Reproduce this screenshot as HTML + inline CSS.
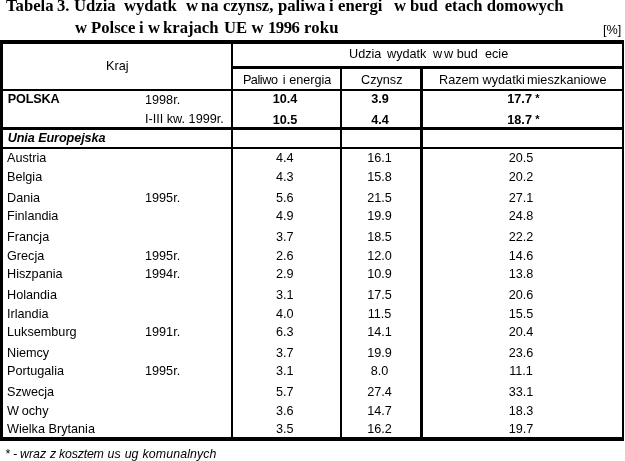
<!DOCTYPE html>
<html><head><meta charset="utf-8"><title>Tabela 3</title>
<style>
html,body{margin:0;padding:0;background:#fff;}
body{width:625px;height:461px;position:relative;overflow:hidden;will-change:transform;font-family:"Liberation Sans", sans-serif;font-size:12.67px;color:#000;}
.r{position:absolute;background:#000;}
.t{position:absolute;white-space:nowrap;line-height:0;}
.t::before{content:"";display:inline-block;height:20px;width:0;vertical-align:baseline;}
.b{font-weight:bold;}
.it{font-style:italic;}
.n{font-weight:normal;}
.ti{font-family:"Liberation Serif", serif;font-weight:bold;font-size:16.67px;}
.g{display:inline-block;height:1px;}
</style></head><body>
<div class="r" style="left:0px;top:40px;width:624px;height:4px"></div>
<div class="r" style="left:0px;top:437px;width:624px;height:4px"></div>
<div class="r" style="left:0px;top:40px;width:3px;height:401px"></div>
<div class="r" style="left:622px;top:40px;width:2px;height:401px"></div>
<div class="r" style="left:231px;top:40px;width:2px;height:401px"></div>
<div class="r" style="left:340px;top:66px;width:2px;height:375px"></div>
<div class="r" style="left:420px;top:66px;width:3px;height:375px"></div>
<div class="r" style="left:231px;top:66px;width:393px;height:3px"></div>
<div class="r" style="left:0px;top:89px;width:624px;height:2px"></div>
<div class="r" style="left:0px;top:127px;width:624px;height:3px"></div>
<div class="r" style="left:0px;top:147px;width:624px;height:2px"></div>
<div class="t ti" style="top:-9px;left:6px;">Tabela</div>
<div class="t ti" style="top:-9px;left:57px;">3.</div>
<div class="t ti" style="top:-9px;left:74px;">Udzia</div>
<div class="t ti" style="top:-9px;left:124px;">wydatk</div>
<div class="t ti" style="top:-9px;left:186px;">w</div>
<div class="t ti" style="top:-9px;left:201px;">na</div>
<div class="t ti" style="top:-9px;left:223px;">czynsz,</div>
<div class="t ti" style="top:-9px;left:278px;">paliwa</div>
<div class="t ti" style="top:-9px;left:329px;">i</div>
<div class="t ti" style="top:-9px;left:338px;">energi</div>
<div class="t ti" style="top:-9px;left:394px;">w</div>
<div class="t ti" style="top:-9px;left:410px;">bud</div>
<div class="t ti" style="top:-9px;left:444.7px;">etach</div>
<div class="t ti" style="top:-9px;left:486.7px;">domowych</div>
<div class="t ti" style="top:13px;left:75px;">w</div>
<div class="t ti" style="top:13px;left:91px;">Polsce</div>
<div class="t ti" style="top:13px;left:139px;">i</div>
<div class="t ti" style="top:13px;left:148px;">w</div>
<div class="t ti" style="top:13px;left:163px;">krajach</div>
<div class="t ti" style="top:13px;left:224px;">UE</div>
<div class="t ti" style="top:13px;left:251.5px;">w</div>
<div class="t ti" style="top:13px;left:268px;letter-spacing:-0.5px;">1996</div>
<div class="t ti" style="top:13px;left:304px;letter-spacing:0.2px;">roku</div>
<div class="t" style="top:14px;left:603px;">[%]</div>
<div class="t" style="top:50px;left:106px;">Kraj</div>
<div class="t" style="top:38px;left:349px;">Udzia</div>
<div class="t" style="top:38px;left:387px;">wydatk</div>
<div class="t" style="top:38px;left:433px;">w</div>
<div class="t" style="top:38px;left:444px;">w bud</div>
<div class="t" style="top:38px;left:485px;">ecie</div>
<div class="t" style="top:64px;left:243px;">P</div>
<div class="t" style="top:64px;left:250.8px;letter-spacing:-0.4px;">aliwo</div>
<div class="t" style="top:64px;left:282.8px;">i energia</div>
<div class="t" style="top:64px;left:361px;">Czynsz</div>
<div class="t" style="top:64px;left:439px;">Razem wydatki</div>
<div class="t" style="top:64px;left:527px;">mieszkaniowe</div>
<div class="t b" style="top:83px;left:7.7px;letter-spacing:-0.15px;">POLSKA</div>
<div class="t" style="top:84px;left:145px;">1998r.</div>
<div class="t" style="top:103px;left:145px;">I-III kw. 1999r.</div>
<div class="t b" style="top:83px;left:135px;width:300px;text-align:center;">10.4</div>
<div class="t b" style="top:83px;left:230px;width:300px;text-align:center;">3.9</div>
<div class="t b" style="top:83px;left:507.3px;">17.7</div>
<div class="t b" style="top:82px;left:535.2px;font-size:11px;">*</div>
<div class="t b" style="top:104px;left:135px;width:300px;text-align:center;">10.5</div>
<div class="t b" style="top:104px;left:230px;width:300px;text-align:center;">4.4</div>
<div class="t b" style="top:104px;left:507.3px;">18.7</div>
<div class="t b" style="top:103px;left:535.2px;font-size:11px;">*</div>
<div class="t b it" style="top:122px;left:7.7px;letter-spacing:-0.1px;">Unia Europejska</div>
<div class="t" style="top:142px;left:7px;">Austria</div>
<div class="t" style="top:142px;left:134.7px;width:300px;text-align:center;">4.4</div>
<div class="t" style="top:142px;left:229.5px;width:300px;text-align:center;">16.1</div>
<div class="t" style="top:142px;left:371px;width:300px;text-align:center;">20.5</div>
<div class="t" style="top:161px;left:7px;">Belgia</div>
<div class="t" style="top:161px;left:134.7px;width:300px;text-align:center;">4.3</div>
<div class="t" style="top:161px;left:229.5px;width:300px;text-align:center;">15.8</div>
<div class="t" style="top:161px;left:371px;width:300px;text-align:center;">20.2</div>
<div class="t" style="top:182px;left:7px;">Dania</div>
<div class="t" style="top:182px;left:145px;">1995r.</div>
<div class="t" style="top:182px;left:134.7px;width:300px;text-align:center;">5.6</div>
<div class="t" style="top:182px;left:229.5px;width:300px;text-align:center;">21.5</div>
<div class="t" style="top:182px;left:371px;width:300px;text-align:center;">27.1</div>
<div class="t" style="top:200px;left:7px;">Finlandia</div>
<div class="t" style="top:200px;left:134.7px;width:300px;text-align:center;">4.9</div>
<div class="t" style="top:200px;left:229.5px;width:300px;text-align:center;">19.9</div>
<div class="t" style="top:200px;left:371px;width:300px;text-align:center;">24.8</div>
<div class="t" style="top:221px;left:7px;">Francja</div>
<div class="t" style="top:221px;left:134.7px;width:300px;text-align:center;">3.7</div>
<div class="t" style="top:221px;left:229.5px;width:300px;text-align:center;">18.5</div>
<div class="t" style="top:221px;left:371px;width:300px;text-align:center;">22.2</div>
<div class="t" style="top:240px;left:7px;">Grecja</div>
<div class="t" style="top:240px;left:145px;">1995r.</div>
<div class="t" style="top:240px;left:134.7px;width:300px;text-align:center;">2.6</div>
<div class="t" style="top:240px;left:229.5px;width:300px;text-align:center;">12.0</div>
<div class="t" style="top:240px;left:371px;width:300px;text-align:center;">14.6</div>
<div class="t" style="top:258px;left:7px;">Hiszpania</div>
<div class="t" style="top:258px;left:145px;">1994r.</div>
<div class="t" style="top:258px;left:134.7px;width:300px;text-align:center;">2.9</div>
<div class="t" style="top:258px;left:229.5px;width:300px;text-align:center;">10.9</div>
<div class="t" style="top:258px;left:371px;width:300px;text-align:center;">13.8</div>
<div class="t" style="top:279px;left:7px;">Holandia</div>
<div class="t" style="top:279px;left:134.7px;width:300px;text-align:center;">3.1</div>
<div class="t" style="top:279px;left:229.5px;width:300px;text-align:center;">17.5</div>
<div class="t" style="top:279px;left:371px;width:300px;text-align:center;">20.6</div>
<div class="t" style="top:298px;left:7px;">Irlandia</div>
<div class="t" style="top:298px;left:134.7px;width:300px;text-align:center;">4.0</div>
<div class="t" style="top:298px;left:229.5px;width:300px;text-align:center;">11.5</div>
<div class="t" style="top:298px;left:371px;width:300px;text-align:center;">15.5</div>
<div class="t" style="top:316px;left:7px;">Luksemburg</div>
<div class="t" style="top:316px;left:145px;">1991r.</div>
<div class="t" style="top:316px;left:134.7px;width:300px;text-align:center;">6.3</div>
<div class="t" style="top:316px;left:229.5px;width:300px;text-align:center;">14.1</div>
<div class="t" style="top:316px;left:371px;width:300px;text-align:center;">20.4</div>
<div class="t" style="top:337px;left:7px;">Niemcy</div>
<div class="t" style="top:337px;left:134.7px;width:300px;text-align:center;">3.7</div>
<div class="t" style="top:337px;left:229.5px;width:300px;text-align:center;">19.9</div>
<div class="t" style="top:337px;left:371px;width:300px;text-align:center;">23.6</div>
<div class="t" style="top:355px;left:7px;">Portugalia</div>
<div class="t" style="top:355px;left:145px;">1995r.</div>
<div class="t" style="top:355px;left:134.7px;width:300px;text-align:center;">3.1</div>
<div class="t" style="top:355px;left:229.5px;width:300px;text-align:center;">8.0</div>
<div class="t" style="top:355px;left:371px;width:300px;text-align:center;">11.1</div>
<div class="t" style="top:376px;left:7px;">Szwecja</div>
<div class="t" style="top:376px;left:134.7px;width:300px;text-align:center;">5.7</div>
<div class="t" style="top:376px;left:229.5px;width:300px;text-align:center;">27.4</div>
<div class="t" style="top:376px;left:371px;width:300px;text-align:center;">33.1</div>
<div class="t" style="top:395px;left:7px;">W<i class="g" style="width:2.8px"></i>ochy</div>
<div class="t" style="top:395px;left:134.7px;width:300px;text-align:center;">3.6</div>
<div class="t" style="top:395px;left:229.5px;width:300px;text-align:center;">14.7</div>
<div class="t" style="top:395px;left:371px;width:300px;text-align:center;">18.3</div>
<div class="t" style="top:413px;left:7px;">Wielka Brytania</div>
<div class="t" style="top:413px;left:134.7px;width:300px;text-align:center;">3.5</div>
<div class="t" style="top:413px;left:229.5px;width:300px;text-align:center;">16.2</div>
<div class="t" style="top:413px;left:371px;width:300px;text-align:center;">19.7</div>
<div class="t it" style="top:438px;left:5px;font-size:12.4px;">*</div>
<div class="t it" style="top:438px;left:13px;font-size:12.4px;">-</div>
<div class="t it" style="top:438px;left:20px;font-size:12.4px;">wraz</div>
<div class="t it" style="top:438px;left:50px;font-size:12.4px;">z</div>
<div class="t it" style="top:438px;left:59px;font-size:12.4px;letter-spacing:-0.2px;">kosztem</div>
<div class="t it" style="top:438px;left:107.6px;font-size:12.4px;">us</div>
<div class="t it" style="top:438px;left:124.7px;font-size:12.4px;">ug</div>
<div class="t it" style="top:438px;left:142.5px;font-size:12.4px;letter-spacing:0.1px;">komunalnych</div>
</body></html>
